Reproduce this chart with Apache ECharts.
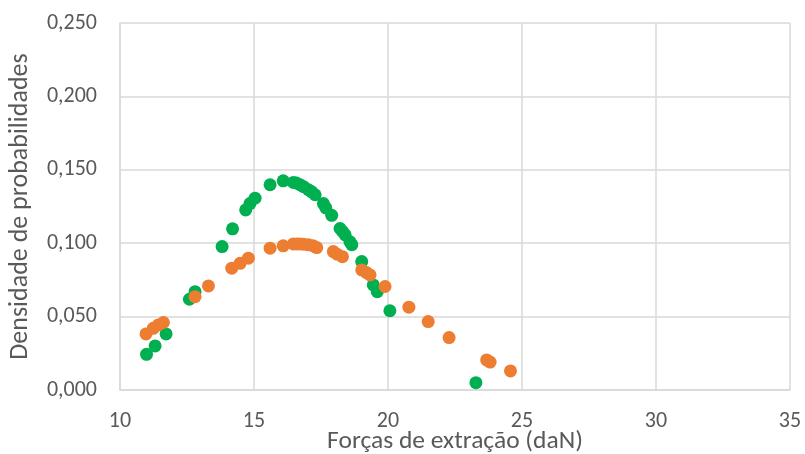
<!DOCTYPE html>
<html><head><meta charset="utf-8">
<script src="https://cdn.jsdelivr.net/npm/echarts@6/dist/echarts.min.js"></script>
<style>html,body{margin:0;padding:0;background:#fff}#c{width:805px;height:454px}</style>
</head><body><div id="c"></div>
<script>
var greenX = [10.99,11.31,11.72,12.59,12.80,13.81,14.20,14.69,14.85,15.04,15.60,16.09,16.47,16.58,16.72,16.85,17.03,17.15,17.28,17.59,17.68,17.90,18.21,18.30,18.40,18.58,18.65,19.02,19.45,19.60,20.07,23.28];
var greenY = [0.0243,0.0300,0.0382,0.0618,0.0670,0.0977,0.1098,0.1227,0.1270,0.1307,0.1398,0.1425,0.1414,0.1410,0.1398,0.1385,0.1364,0.1350,0.1330,0.1270,0.1240,0.1190,0.1100,0.1080,0.1057,0.1010,0.0990,0.0875,0.0716,0.0670,0.0540,0.0050];
var orangeX = [10.97,11.24,11.43,11.62,12.80,13.30,14.17,14.48,14.79,15.60,16.09,16.47,16.60,16.72,16.85,17.03,17.20,17.34,17.96,18.10,18.30,19.02,19.20,19.33,19.89,20.78,21.50,22.28,23.68,23.81,24.57];
var orangeY = [0.0382,0.0420,0.0443,0.0460,0.0636,0.0709,0.0830,0.0863,0.0898,0.0966,0.0982,0.0995,0.0995,0.0995,0.0993,0.0989,0.0983,0.0970,0.0943,0.0925,0.0908,0.0818,0.0800,0.0784,0.0705,0.0564,0.0466,0.0357,0.0205,0.0190,0.0130];
var xTitle = 'Forças de extração (daN)';
var yTitle = 'Densidade de probabilidades';

function pairs(xs, ys){ return xs.map(function(x,i){ return [x, ys[i]]; }); }
var font = 'Carlito, Lato, "Open Sans", sans-serif';
var chart = echarts.init(document.getElementById('c'));
chart.setOption({
  animation:false,
  grid:{left:120,right:15,top:23,bottom:64,containLabel:false,outerBoundsMode:'none'},
  xAxis:{type:'value',min:10,max:35,interval:5,
    name:xTitle,nameLocation:'middle',nameGap:39,nameMoveOverlap:false,
    nameTextStyle:{fontFamily:font,fontSize:25.5,color:'#595959',lineHeight:25},
    axisLine:{show:true,lineStyle:{color:'#d9d9d9',width:1.5}},
    axisTick:{show:false},
    splitLine:{show:true,lineStyle:{color:'#d9d9d9',width:1.5}},
    axisLabel:{fontFamily:font,fontSize:22,color:'#595959',margin:20}},
  yAxis:{type:'value',min:0,max:0.25,interval:0.05,
    name:yTitle,nameLocation:'middle',nameGap:87,nameRotate:90,nameMoveOverlap:false,
    nameTextStyle:{fontFamily:font,fontSize:26,color:'#595959'},
    axisLine:{show:true,lineStyle:{color:'#d9d9d9',width:1.5}},
    axisTick:{show:false},
    splitLine:{show:true,lineStyle:{color:'#d9d9d9',width:1.5}},
    axisLabel:{fontFamily:font,fontSize:22,color:'#595959',margin:23,
      formatter:function(v){return v.toFixed(3).replace('.',',');}}},
  series:[
    {type:'scatter',data:pairs(greenX,greenY),symbolSize:13,itemStyle:{color:'#00b050',opacity:1}},
    {type:'scatter',data:pairs(orangeX,orangeY),symbolSize:13,itemStyle:{color:'#ed7d31',opacity:1}}
  ]
});
</script></body></html>
